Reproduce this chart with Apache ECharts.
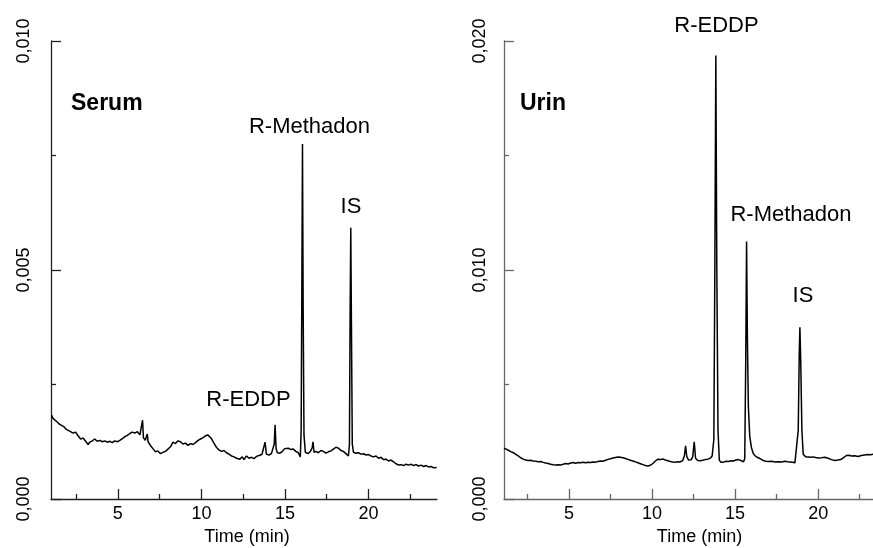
<!DOCTYPE html>
<html>
<head>
<meta charset="utf-8">
<script src="https://cdn.jsdelivr.net/npm/echarts@6/dist/echarts.min.js"></script>
<style>
    html, body { margin: 0; padding: 0; background: #fff; }
    #chart { width: 873px; height: 548px; }
</style>
</head>
<body>
<div id="chart"></div>
<script>
// Serum chromatogram: [time (min), absorbance]
const serumTrace = [
    [1.03, 0.00183], [1.12, 0.00176], [1.22, 0.00172], [1.37, 0.00168], [1.52, 0.00163],
    [1.62, 0.00165], [1.77, 0.00158], [1.92, 0.00152], [2.02, 0.00154], [2.17, 0.00147],
    [2.32, 0.00144], [2.47, 0.00146], [2.62, 0.00138], [2.77, 0.00131], [2.92, 0.00133],
    [3.07, 0.00126], [3.22, 0.00119], [3.32, 0.00124], [3.47, 0.00127], [3.62, 0.00131],
    [3.77, 0.00126], [3.92, 0.00128], [4.07, 0.00125], [4.22, 0.00127], [4.37, 0.00124],
    [4.52, 0.00126], [4.67, 0.00123], [4.82, 0.00127], [4.97, 0.00125], [5.12, 0.00128],
    [5.27, 0.00132], [5.42, 0.00136], [5.57, 0.00139], [5.72, 0.00143], [5.86, 0.00146],
    [6.02, 0.00144], [6.17, 0.00147], [6.32, 0.00140], [6.43, 0.00136], [6.48, 0.00172],
    [6.53, 0.00134], [6.64, 0.00128], [6.76, 0.00142], [6.81, 0.00125], [6.95, 0.00117],
    [7.1, 0.00110], [7.25, 0.00103], [7.4, 0.00105], [7.55, 0.00099], [7.7, 0.00102],
    [7.85, 0.00104], [8.0, 0.00109], [8.15, 0.00114], [8.3, 0.00124], [8.45, 0.00121],
    [8.6, 0.00127], [8.75, 0.00125], [8.9, 0.00120], [9.05, 0.00122], [9.2, 0.00117],
    [9.35, 0.00121], [9.5, 0.00119], [9.65, 0.00123], [9.8, 0.00128], [9.95, 0.00131],
    [10.1, 0.00134], [10.25, 0.00138], [10.38, 0.00140], [10.45, 0.00142], [10.6, 0.00132],
    [10.75, 0.00122], [10.9, 0.00113], [11.05, 0.00107], [11.2, 0.00104], [11.35, 0.00106],
    [11.5, 0.00101], [11.65, 0.00098], [11.8, 0.00094], [11.95, 0.00092], [12.1, 0.00089],
    [12.2, 0.00093], [12.3, 0.00087], [12.45, 0.00092], [12.55, 0.00086], [12.7, 0.00094],
    [12.85, 0.00089], [13.0, 0.00091], [13.15, 0.00088], [13.3, 0.00093], [13.45, 0.00095],
    [13.62, 0.00097], [13.72, 0.00100], [13.81, 0.00124], [13.89, 0.00098], [14.04, 0.00096],
    [14.19, 0.00099], [14.3, 0.00101], [14.36, 0.00120], [14.41, 0.00162], [14.47, 0.00110],
    [14.55, 0.00101], [14.7, 0.00100], [14.85, 0.00104], [14.98, 0.00110], [15.08, 0.00107],
    [15.2, 0.00111], [15.35, 0.00108], [15.5, 0.00109], [15.65, 0.00104], [15.8, 0.00101],
    [15.92, 0.00092], [15.97, 0.00150], [16.01, 0.00450], [16.05, 0.00775], [16.09, 0.00420],
    [16.14, 0.00140], [16.22, 0.00102], [16.38, 0.00099], [16.54, 0.00105], [16.63, 0.00112],
    [16.68, 0.00125], [16.74, 0.00102], [16.86, 0.00104], [17.0, 0.00101], [17.15, 0.00106],
    [17.3, 0.00104], [17.45, 0.00100], [17.6, 0.00103], [17.75, 0.00105], [17.9, 0.00109],
    [18.05, 0.00113], [18.2, 0.00111], [18.35, 0.00106], [18.5, 0.00104], [18.65, 0.00099],
    [18.8, 0.00094], [18.86, 0.00120], [18.9, 0.00400], [18.94, 0.00592], [18.98, 0.00380],
    [19.03, 0.00120], [19.1, 0.00102], [19.25, 0.00100], [19.4, 0.00101], [19.55, 0.00098],
    [19.7, 0.00099], [19.85, 0.00096], [20.0, 0.00097], [20.15, 0.00094], [20.3, 0.00092],
    [20.45, 0.00094], [20.6, 0.00089], [20.75, 0.00091], [20.9, 0.00086], [21.05, 0.00087],
    [21.2, 0.00083], [21.35, 0.00085], [21.5, 0.00081], [21.65, 0.00077], [21.8, 0.00074],
    [21.95, 0.00075], [22.1, 0.00073], [22.25, 0.00076], [22.4, 0.00074], [22.55, 0.00076],
    [22.7, 0.00073], [22.85, 0.00075], [23.0, 0.00072], [23.15, 0.00074], [23.3, 0.00071],
    [23.45, 0.00073], [23.6, 0.00070], [23.75, 0.00071], [23.9, 0.00068], [24.08, 0.00069]
];

// Urin chromatogram: [time (min), absorbance]
const urinTrace = [
    [1.09, 0.00222], [1.2, 0.00218], [1.35, 0.00213], [1.5, 0.00207], [1.65, 0.00202],
    [1.8, 0.00195], [1.95, 0.00188], [2.1, 0.00180], [2.25, 0.00174], [2.4, 0.00170],
    [2.55, 0.00168], [2.7, 0.00169], [2.85, 0.00166], [3.0, 0.00165], [3.15, 0.00163],
    [3.3, 0.00164], [3.45, 0.00160], [3.6, 0.00157], [3.75, 0.00155], [3.9, 0.00152],
    [4.05, 0.00150], [4.2, 0.00149], [4.35, 0.00150], [4.5, 0.00148], [4.65, 0.00152],
    [4.8, 0.00155], [4.95, 0.00153], [5.1, 0.00157], [5.25, 0.00159], [5.4, 0.00156],
    [5.55, 0.00159], [5.7, 0.00158], [5.85, 0.00160], [6.0, 0.00158], [6.15, 0.00160],
    [6.3, 0.00159], [6.45, 0.00162], [6.6, 0.00161], [6.75, 0.00164], [6.9, 0.00166],
    [7.05, 0.00165], [7.2, 0.00169], [7.35, 0.00173], [7.5, 0.00176], [7.65, 0.00179],
    [7.8, 0.00181], [7.95, 0.00183], [8.1, 0.00182], [8.25, 0.00180], [8.4, 0.00177],
    [8.55, 0.00173], [8.7, 0.00169], [8.85, 0.00166], [9.0, 0.00162], [9.15, 0.00158],
    [9.3, 0.00154], [9.45, 0.00150], [9.6, 0.00146], [9.75, 0.00144], [9.9, 0.00147],
    [10.05, 0.00155], [10.2, 0.00166], [10.35, 0.00174], [10.5, 0.00172], [10.65, 0.00175],
    [10.8, 0.00170], [10.95, 0.00167], [11.1, 0.00164], [11.25, 0.00162], [11.4, 0.00161],
    [11.55, 0.00163], [11.7, 0.00162], [11.85, 0.00168], [11.95, 0.00190], [12.02, 0.00232],
    [12.09, 0.00185], [12.2, 0.00170], [12.35, 0.00171], [12.45, 0.00185], [12.54, 0.00250],
    [12.62, 0.00178], [12.75, 0.00168], [12.9, 0.00167], [13.05, 0.00169], [13.2, 0.00172],
    [13.35, 0.00174], [13.5, 0.00178], [13.62, 0.00188], [13.72, 0.00260], [13.78, 0.01000],
    [13.84, 0.01937], [13.9, 0.01000], [13.97, 0.00300], [14.05, 0.00170], [14.15, 0.00160],
    [14.3, 0.00161], [14.45, 0.00165], [14.6, 0.00164], [14.75, 0.00167], [14.9, 0.00166],
    [15.05, 0.00170], [15.2, 0.00172], [15.35, 0.00168], [15.5, 0.00162], [15.58, 0.00175],
    [15.64, 0.00600], [15.69, 0.01124], [15.74, 0.00700], [15.8, 0.00400], [15.88, 0.00275],
    [15.98, 0.00225], [16.1, 0.00198], [16.25, 0.00185], [16.4, 0.00180], [16.55, 0.00174],
    [16.7, 0.00168], [16.85, 0.00165], [17.0, 0.00164], [17.2, 0.00165], [17.4, 0.00162],
    [17.6, 0.00163], [17.8, 0.00162], [18.0, 0.00165], [18.15, 0.00163], [18.3, 0.00162],
    [18.45, 0.00160], [18.6, 0.00158], [18.72, 0.00160], [18.8, 0.00300], [18.86, 0.00630],
    [18.9, 0.00750], [18.95, 0.00600], [19.02, 0.00300], [19.1, 0.00195], [19.25, 0.00184],
    [19.4, 0.00183], [19.55, 0.00182], [19.7, 0.00184], [19.85, 0.00181], [20.0, 0.00179],
    [20.2, 0.00180], [20.4, 0.00182], [20.6, 0.00178], [20.8, 0.00172], [21.0, 0.00168],
    [21.2, 0.00170], [21.4, 0.00174], [21.55, 0.00182], [21.7, 0.00190], [21.85, 0.00191],
    [22.0, 0.00188], [22.2, 0.00189], [22.4, 0.00186], [22.6, 0.00190], [22.8, 0.00192],
    [23.0, 0.00194], [23.15, 0.00193], [23.3, 0.00196]
];

const majorTimeTicks = [5, 10, 15, 20];
const minorTimeTicks = [2.5, 7.5, 12.5, 17.5, 22.5];

const textFont = "Liberation Sans, Arial, sans-serif";

function majorXAxis(gridIndex, min, max, lineColor, nameShift) {
    return {
        type: "value",
        gridIndex,
        min,
        max,
        position: "bottom",
        name: "Time (min)",
        nameLocation: "middle",
        nameGap: 29,
        nameTextStyle: {
            fontSize: 18,
            color: "#000",
            fontFamily: textFont,
            padding: [0, 0, 0, nameShift],
        },
        axisLine: { show: true, lineStyle: { color: lineColor, width: 1.3 } },
        axisTick: {
            show: true,
            inside: true,
            length: 10,
            customValues: majorTimeTicks,
            lineStyle: { color: lineColor, width: 1.3 },
        },
        axisLabel: {
            customValues: majorTimeTicks,
            margin: 6,
            fontSize: 18,
            color: "#000",
            fontFamily: textFont,
        },
        splitLine: { show: false },
    };
}

function minorXAxis(gridIndex, min, max, lineColor) {
    return {
        type: "value",
        gridIndex,
        min,
        max,
        position: "bottom",
        axisLine: { show: false },
        axisTick: {
            show: true,
            inside: true,
            length: 5,
            customValues: minorTimeTicks,
            lineStyle: { color: lineColor, width: 1.3 },
        },
        axisLabel: { show: false },
        splitLine: { show: false },
    };
}

function absYAxis(gridIndex, max, interval, margin, lineColor) {
    return {
        type: "value",
        gridIndex,
        min: 0,
        max,
        interval,
        axisLine: { show: true, lineStyle: { color: lineColor, width: 1.3 } },
        axisTick: { show: true, inside: true, length: 10, lineStyle: { color: lineColor, width: 1.3 } },
        minorTick: { show: true, splitNumber: 2, length: 5, lineStyle: { color: lineColor, width: 1.3 } },
        axisLabel: {
            rotate: 90,
            margin,
            fontSize: 18,
            color: "#000",
            fontFamily: textFont,
            formatter: (v) => v.toFixed(3).replace(".", ","),
        },
        splitLine: { show: false },
        minorSplitLine: { show: false },
    };
}

function traceSeries(data, axisIndex) {
    return {
        type: "line",
        data,
        xAxisIndex: axisIndex * 2,
        yAxisIndex: axisIndex,
        showSymbol: false,
        symbol: "none",
        lineStyle: { color: "#000", width: 1.5 },
        silent: true,
    };
}

function label(text, x, y, opts) {
    return {
        type: "text",
        x,
        y,
        style: {
            text,
            fontSize: 22,
            fontFamily: textFont,
            fill: "#000",
            align: "center",
            verticalAlign: "middle",
            ...opts,
        },
    };
}

let chartDom = document.getElementById("chart");
let myChart = echarts.init(chartDom);

let option = {
    animation: false,
    backgroundColor: "#fff",
    grid: [
        { left: 51, right: 436, top: 41, bottom: 49, containLabel: false, outerBoundsMode: "none" },
        { left: 504, right: 0, top: 41, bottom: 49, containLabel: false, outerBoundsMode: "none" },
    ],
    xAxis: [
        majorXAxis(0, 1, 24.1, "#222", 6),
        minorXAxis(0, 1, 24.1, "#222"),
        majorXAxis(1, 1.09, 23.3, "#666", 22),
        minorXAxis(1, 1.09, 23.3, "#666"),
    ],
    yAxis: [
        absYAxis(0, 0.01, 0.005, 18, "#222"),
        absYAxis(1, 0.02, 0.01, 15, "#666"),
    ],
    series: [traceSeries(serumTrace, 0), traceSeries(urinTrace, 1)],
    graphic: [
        label("Serum", 71, 104, { align: "left", fontWeight: "bold", fontSize: 23 }),
        label("R-Methadon", 309.5, 127),
        label("IS", 351, 207),
        label("R-EDDP", 248.5, 400),
        label("Urin", 520, 104, { align: "left", fontWeight: "bold", fontSize: 23 }),
        label("R-EDDP", 716.5, 26),
        label("R-Methadon", 791, 215),
        label("IS", 803, 296),
    ],
};

option && myChart.setOption(option);
</script>
</body>
</html>
